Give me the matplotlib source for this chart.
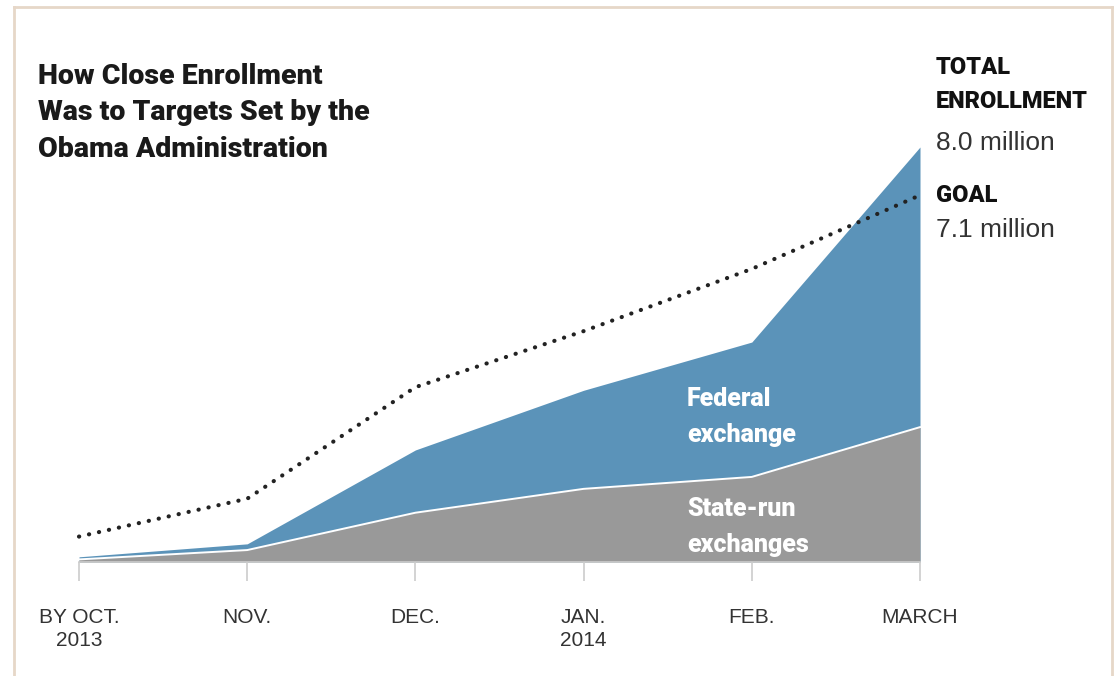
import matplotlib.pyplot as plt
from matplotlib.lines import Line2D

months = ['BY OCT.\n2013', 'NOV.', 'DEC.', 'JAN.\n2014', 'FEB.', 'MARCH']
# cumulative enrollment, millions
state_run = [0.05, 0.23, 0.95, 1.41, 1.64, 2.60]
total = [0.10, 0.35, 2.16, 3.31, 4.24, 8.00]
goal = [0.49, 1.22, 3.37, 4.45, 5.65, 7.07]

BLUE = '#5b93b9'
GRAY = '#999999'
BOLD_FONT = 'Roboto'
REG_FONT = 'Liberation Sans'

W, H = 1114, 676
fig = plt.figure(figsize=(W / 100, H / 100), dpi=100)

# axes placed so that x 0..5 spans px 79..920 and y 0..8 spans px 562..147
x0, x1, y0, y1 = 79, 920, 562, 147
ax = fig.add_axes([x0 / W, (H - y0) / H, (x1 - x0) / W, (y0 - y1) / H])
xs = list(range(len(months)))

ax.fill_between(xs, 0, total, color=BLUE, lw=0, clip_on=False)
ax.fill_between(xs, 0, state_run, color=GRAY, lw=0, clip_on=False)
ax.plot(xs, state_run, color='white', lw=1.4, clip_on=False)
ax.plot(xs, goal, color='#222222', lw=3.0, linestyle=(0, (0.05, 2.4)),
        dash_capstyle='round', clip_on=False)

ax.set_xlim(0, 5)
ax.set_ylim(0, 8.0)
ax.set_yticks([])
ax.set_xticks(xs)
ax.set_xticklabels(months, fontsize=15, family=REG_FONT, color='#333333',
                   linespacing=1.3)
ax.tick_params(axis='x', length=14, width=1.2, color='#cccccc', pad=19)
for side in ['left', 'right', 'top']:
    ax.spines[side].set_visible(False)
ax.spines['bottom'].set_color('#cccccc')
ax.spines['bottom'].set_linewidth(1.2)
ax.patch.set_alpha(0)

# title
fig.text(38 / W, 1 - 113 / H, 'How Close Enrollment\nWas to Targets Set by the\nObama Administration',
         fontsize=20.5, weight='black', family=BOLD_FONT, color='#1a1a1a',
         va='center', ha='left', linespacing=1.44)

# right-hand annotations
lab = dict(fontsize=17, weight='black', family=BOLD_FONT, color='#111111', va='center')
num = dict(fontsize=19, family=REG_FONT, color='#333333', va='center')
fig.text(936 / W, 1 - 68 / H, 'TOTAL', **lab)
fig.text(936 / W, 1 - 102 / H, 'ENROLLMENT', **lab)
fig.text(936 / W, 1 - 143 / H, '8.0 million', **num)
fig.text(936 / W, 1 - 196 / H, 'GOAL', **lab)
fig.text(936 / W, 1 - 230 / H, '7.1 million', **num)

# area labels
fig.text(687 / W, 1 - 417 / H, 'Federal\nexchange', fontsize=18, weight='black',
         family=BOLD_FONT, color='white', va='center', linespacing=1.6)
fig.text(687 / W, 1 - 527 / H, 'State-run\nexchanges', fontsize=18, weight='black',
         family=BOLD_FONT, color='white', va='center', linespacing=1.6)

# frame around the graphic
border = '#e6d7c8'
fig.add_artist(Line2D([14 / W, 14 / W], [0, 1 - 7 / H], color=border, lw=2))
fig.add_artist(Line2D([14 / W, 1112 / W], [1 - 7 / H, 1 - 7 / H], color=border, lw=2))
fig.add_artist(Line2D([1112 / W, 1112 / W], [0, 1 - 7 / H], color=border, lw=2))

fig.savefig('out.png', dpi=100)
